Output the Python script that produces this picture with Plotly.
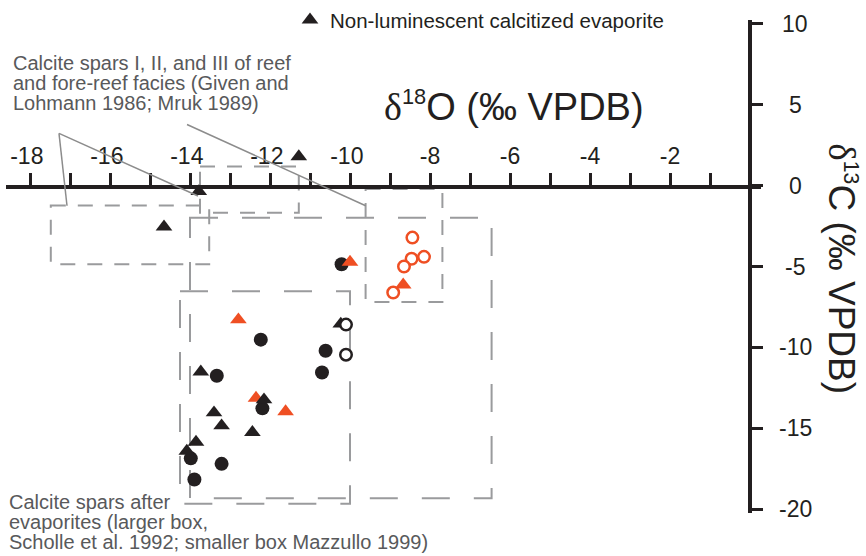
import plotly.graph_objects as go

# ---- isotope data, δ18O (x) and δ13C (y), ‰ VPDB ----
tri_black_x = [-13.78, -14.65, -11.28, -10.23, -13.73, -12.15, -13.40, -13.21, -12.44, -13.85, -14.08]
tri_black_y = [-0.36, -2.54, 1.80, -8.55, -11.51, -13.23, -14.04, -14.84, -15.25, -15.85, -16.41]

dot_black_x = [-10.21, -12.23, -10.61, -10.70, -13.33, -12.19, -13.98, -13.21, -13.89]
dot_black_y = [-4.86, -9.52, -10.21, -11.55, -11.75, -13.77, -16.86, -17.20, -18.17]

ring_black_x = [-10.10, -10.10]
ring_black_y = [-8.59, -10.45]

tri_orange_x = [-10.00, -12.79, -12.35, -11.61, -8.67]
tri_orange_y = [-4.72, -8.29, -13.13, -13.97, -6.13]

ring_orange_x = [-8.44, -8.15, -8.46, -8.65, -8.92]
ring_orange_y = [-3.21, -4.40, -4.52, -5.00, -6.61]

x_major = list(range(-18, 0, 2))
x_minor = list(range(-17, 0, 2))
x_labels = [str(v) + ("\u00a0" if v <= -10 else "") for v in x_major]
y_ticks = [10, 5, 0, -5, -10, -15, -20]

# literature fields (x0, x1, y0, y1)
reef_spar_fields = [
    (-17.48, -13.52, -1.23, -4.86),
    (-13.75, -11.28, 1.19, -1.68),
    (-9.61, -7.69, -0.20, -7.20),
]
evaporite_field_large = (-14.00, -6.46, -1.98, -19.33)   # Scholle et al. 1992
evaporite_field_small = (-14.25, -10.00, -6.53, -19.66)  # Mazzullo 1999

# ---- styling ----
W, H = 866, 556
FONT = "Liberation Sans, Arial, Helvetica, sans-serif"
BLACK = "#231f20"
ORANGE = "#ef4f23"
GREY_BOX = "#9a9b9d"
GREY_TEXT = "#58595b"
GREY_LEAD = "#8c8c8c"

# pixel layout of the axes
X_ORIGIN_PX, X_SCALE = 750.0, 40.0
Y_ORIGIN_PX, Y_SCALE = 177.5, 16.53


def x_at(px):
    return (px - X_ORIGIN_PX) / X_SCALE


def y_at(py):
    return (Y_ORIGIN_PX - py) / Y_SCALE


def px_x(px):
    return px / W


def px_y(py):
    return 1 - py / H


fig = go.Figure()

fig.add_trace(go.Scatter(
    x=dot_black_x, y=dot_black_y, mode="markers", showlegend=False,
    marker=dict(symbol="circle", size=14, color=BLACK, line=dict(width=0)),
))
fig.add_trace(go.Scatter(
    x=tri_orange_x, y=tri_orange_y, mode="markers", showlegend=False,
    marker=dict(symbol="triangle-up", size=14.5, color=ORANGE, line=dict(width=0)),
))
fig.add_trace(go.Scatter(
    x=tri_black_x, y=tri_black_y, mode="markers",
    name="Non-luminescent calcitized evaporite",
    marker=dict(symbol="triangle-up", size=14.5, color=BLACK, line=dict(width=0)),
))
fig.add_trace(go.Scatter(
    x=ring_black_x, y=ring_black_y, mode="markers", showlegend=False,
    marker=dict(symbol="circle", size=11.5, color="white", line=dict(width=2.5, color=BLACK)),
))
fig.add_trace(go.Scatter(
    x=ring_orange_x, y=ring_orange_y, mode="markers", showlegend=False,
    marker=dict(symbol="circle", size=11.5, color="white", line=dict(width=2.5, color=ORANGE)),
))

shapes = []
for (x0, x1, y0, y1) in reef_spar_fields:
    shapes.append(dict(type="rect", xref="x", yref="y", x0=x0, x1=x1, y0=y0, y1=y1,
                       line=dict(color=GREY_BOX, width=2, dash="15px,12px"), layer="below"))
for (x0, x1, y0, y1) in (evaporite_field_large, evaporite_field_small):
    shapes.append(dict(type="rect", xref="x", yref="y", x0=x0, x1=x1, y0=y0, y1=y1,
                       line=dict(color=GREY_BOX, width=2, dash="28px,24px"), layer="below"))

# leader lines from the reef-spar caption
for (ax, ay, bx, by) in [(59, 124, 67, 198), (59, 124, 198, 188), (187, 115, 365.7, 198)]:
    shapes.append(dict(type="line", xref="paper", yref="paper",
                       x0=px_x(ax), y0=px_y(ay), x1=px_x(bx), y1=px_y(by),
                       line=dict(color=GREY_LEAD, width=1.5)))

annotations = []
for v in y_ticks:
    annotations.append(dict(x=px_x(795), xref="paper", y=v, yref="y", text=str(v),
                            showarrow=False, xanchor="center", yanchor="middle",
                            font=dict(size=23, color=BLACK)))

DELTA = "<span style=\"font-family:'Liberation Serif', 'Times New Roman', serif\">δ</span>"


def iso_label(mass, element):
    return (DELTA + "<sup><span style=\"font-size:82%\">" + mass + "</span></sup>"
            + element + " (‰ VPDB)")


annotations.append(dict(x=px_x(514), y=px_y(96), xref="paper", yref="paper",
                        text=iso_label("18", "O"), showarrow=False,
                        xanchor="center", yanchor="middle", font=dict(size=38, color=BLACK)))
annotations.append(dict(x=px_x(842), y=px_y(262), xref="paper", yref="paper",
                        text=iso_label("13", "C"), showarrow=False, textangle=90,
                        xanchor="center", yanchor="middle", font=dict(size=37, color=BLACK)))

reef_caption = ["Calcite spars I, II, and III of reef",
                "and fore-reef facies (Given and",
                "Lohmann 1986; Mruk 1989)"]
for i, line in enumerate(reef_caption):
    annotations.append(dict(x=px_x(11), y=px_y(52 + 20.5 * i), xref="paper", yref="paper",
                            text=line, showarrow=False, xanchor="left", yanchor="middle",
                            font=dict(size=20, color=GREY_TEXT)))

evap_caption = ["Calcite spars after",
                "evaporites (larger box,",
                "Scholle et al. 1992; smaller box Mazzullo 1999)"]
for i, line in enumerate(evap_caption):
    annotations.append(dict(x=px_x(7), y=px_y(501 + 20.5 * i), xref="paper", yref="paper",
                            text=line, showarrow=False, xanchor="left", yanchor="middle",
                            font=dict(size=20, color=GREY_TEXT)))

fig.update_layout(
    width=W, height=H, margin=dict(l=0, r=0, t=0, b=0),
    paper_bgcolor="white", plot_bgcolor="rgba(0,0,0,0)",
    font=dict(family=FONT, color=BLACK),
    showlegend=True,
    legend=dict(x=px_x(290), y=px_y(8), xanchor="left", yanchor="middle",
                bgcolor="rgba(0,0,0,0)", borderwidth=0,
                font=dict(size=20.5, color=BLACK)),
    xaxis=dict(domain=[px_x(6), px_x(761)], range=[x_at(6), x_at(761)],
               anchor="free", position=px_y(178.5), side="top",
               showline=True, linecolor=BLACK, linewidth=3.5,
               ticks="outside", tickvals=x_major, ticktext=x_labels,
               ticklen=12, tickwidth=3, tickcolor=BLACK,
               tickfont=dict(size=23, color=BLACK),
               minor=dict(tickvals=x_minor, ticks="outside", ticklen=12,
                          tickwidth=3, tickcolor=BLACK, showgrid=False),
               showgrid=False, zeroline=False, fixedrange=True),
    yaxis=dict(domain=[px_y(511.7), px_y(8.3)], range=[y_at(511.7), y_at(8.3)],
               anchor="free", position=px_x(749.5), side="right",
               showline=True, linecolor=BLACK, linewidth=3.5,
               ticks="outside", tickvals=y_ticks, showticklabels=False,
               ticklen=12, tickwidth=3, tickcolor=BLACK,
               showgrid=False, zeroline=False, fixedrange=True),
    shapes=shapes,
    annotations=annotations,
)

fig.write_html("out.html")
